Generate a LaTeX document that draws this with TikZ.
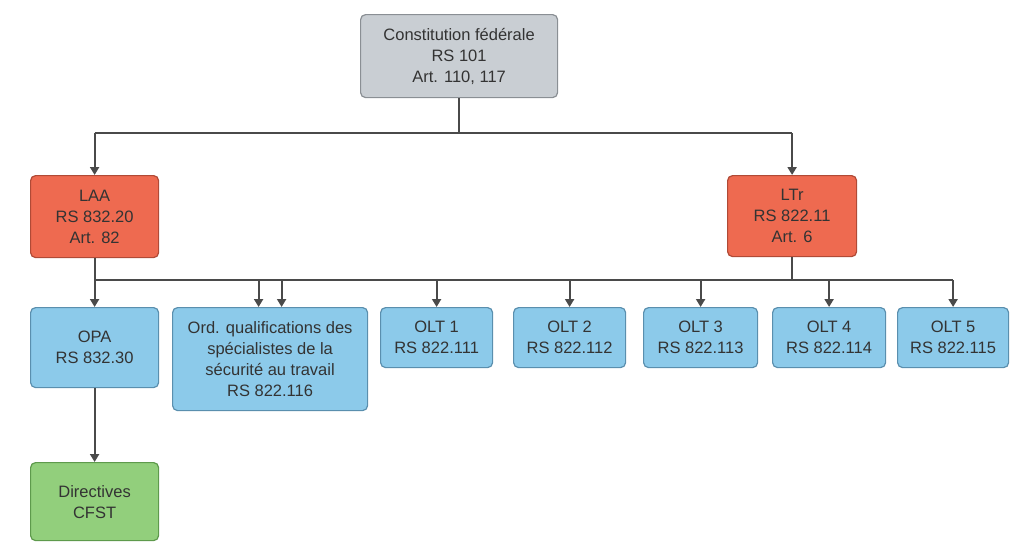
\documentclass[tikz,border=0pt]{standalone}
\usepackage{fontspec}
\setmainfont{Liberation Sans}
\usetikzlibrary{arrows.meta}
\definecolor{grayfill}{HTML}{C9CED3}
\definecolor{grayline}{HTML}{8A8F94}
\definecolor{redfill}{HTML}{EE6A50}
\definecolor{redline}{HTML}{B04A36}
\definecolor{bluefill}{HTML}{8CCAEA}
\definecolor{blueline}{HTML}{5A8FAE}
\definecolor{greenfill}{HTML}{92CF7C}
\definecolor{greenline}{HTML}{5E9A4C}
\definecolor{conn}{HTML}{4A4A4A}
\begin{document}
\begin{tikzpicture}[x=1pt,y=-1pt,
  box/.style={draw, line width=1.2pt, rounded corners=5pt, align=center, inner sep=1pt,
    font=\fontsize{16.5}{21}\selectfont, text=black!80, anchor=north west},
  graybox/.style={box, fill=grayfill, draw=grayline},
  redbox/.style={box, fill=redfill, draw=redline},
  bluebox/.style={box, fill=bluefill, draw=blueline},
  greenbox/.style={box, fill=greenfill, draw=greenline},
  conn/.style={draw=conn, line width=2.2pt},
  arr/.style={conn, -{Triangle[length=8pt,width=9pt]}}]
\useasboundingbox (0,0) rectangle (1010,542);
\node[graybox, minimum width=197pt, minimum height=83pt] (top) at (360,14) {Constitution fédérale\\RS 101\\Art. 110, 117};
\node[redbox, minimum width=128pt, minimum height=82pt] (laa) at (30,175) {LAA\\RS 832.20\\Art. 82};
\node[redbox, minimum width=129pt, minimum height=81pt] (ltr) at (727,175) {LTr\\RS 822.11\\Art. 6};
\node[bluebox, minimum width=128pt, minimum height=80pt] (opa) at (30,307) {OPA\\RS 832.30};
\node[bluebox, minimum width=195pt, minimum height=103pt] (oq) at (172,307) {Ord. qualifications des\\spécialistes de la\\sécurité au travail\\RS 822.116};
\node[bluebox, minimum width=112pt, minimum height=60pt] (olt1) at (380,307) {OLT 1\\RS 822.111};
\node[bluebox, minimum width=112pt, minimum height=60pt] (olt2) at (513,307) {OLT 2\\RS 822.112};
\node[bluebox, minimum width=114pt, minimum height=60pt] (olt3) at (643,307) {OLT 3\\RS 822.113};
\node[bluebox, minimum width=113pt, minimum height=60pt] (olt4) at (772,307) {OLT 4\\RS 822.114};
\node[bluebox, minimum width=111pt, minimum height=60pt] (olt5) at (897,307) {OLT 5\\RS 822.115};
\node[greenbox, minimum width=128pt, minimum height=78pt] (dir) at (30,462) {Directives\\CFST};
% top level connectors
\coordinate (t1) at (top.south |- 0,133);
\draw[conn] (top.south) -- (t1);
\draw[conn] (laa.north |- t1) -- (ltr.north |- t1);
\draw[arr] (laa.north |- t1) -- (laa.north);
\draw[arr] (ltr.north |- t1) -- (ltr.north);
% second level bus
\coordinate (b1) at (0,280);
\draw[conn] (laa.south) -- (laa.south |- b1);
\draw[conn] (ltr.south) -- (ltr.south |- b1);
\draw[conn] (laa.south |- b1) -- (olt5.north |- b1);
\draw[arr] (opa.north |- b1) -- (opa.north);
\draw[arr] ([xshift=-11.5pt]oq.north |- b1) -- ([xshift=-11.5pt]oq.north);
\draw[arr] ([xshift=11.5pt]oq.north |- b1) -- ([xshift=11.5pt]oq.north);
\draw[arr] (olt1.north |- b1) -- (olt1.north);
\draw[arr] (olt2.north |- b1) -- (olt2.north);
\draw[arr] (olt3.north |- b1) -- (olt3.north);
\draw[arr] (olt4.north |- b1) -- (olt4.north);
\draw[arr] (olt5.north |- b1) -- (olt5.north);
\draw[arr] (opa.south) -- (dir.north);
\end{tikzpicture}
\end{document}
